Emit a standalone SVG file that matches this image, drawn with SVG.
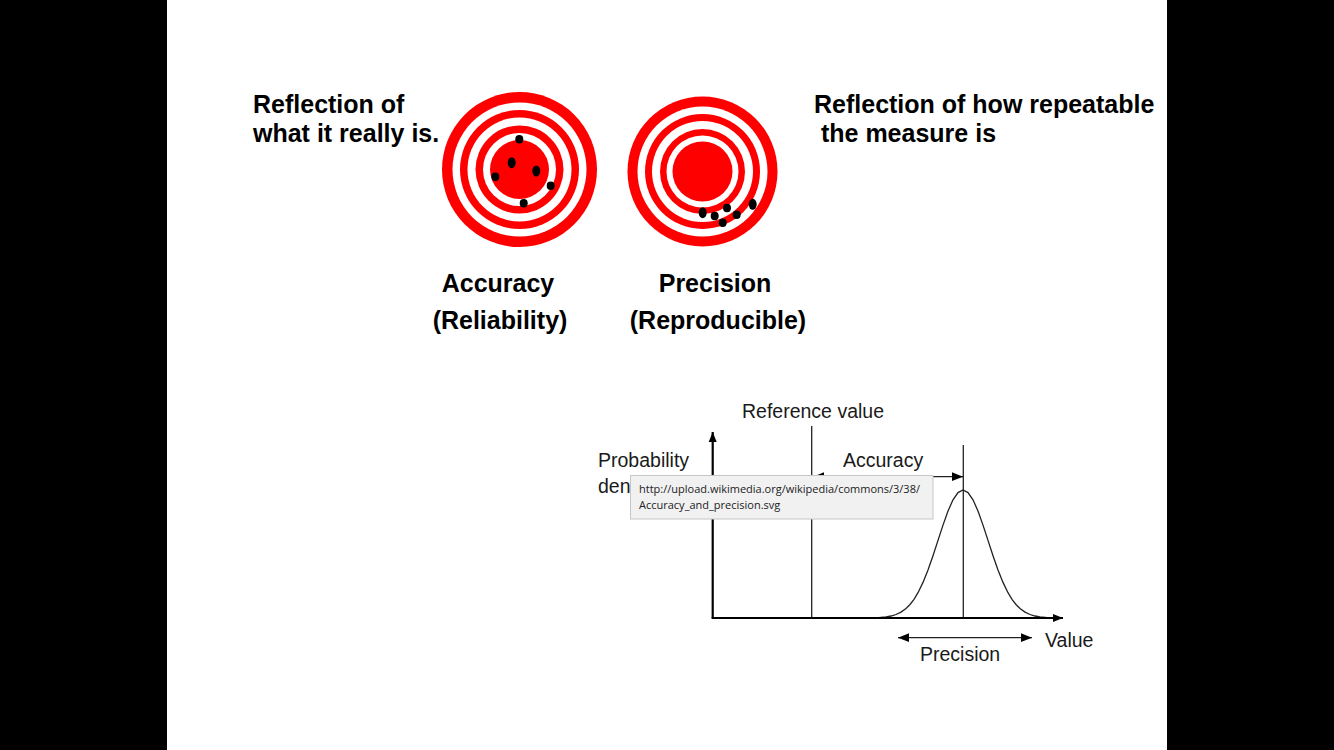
<svg xmlns="http://www.w3.org/2000/svg" width="1334" height="750" viewBox="0 0 1334 750">
<style>
.bold{font-family:"Liberation Sans",Arial,sans-serif;font-weight:bold;font-size:25px;fill:#000}
.reg{font-family:"Liberation Sans",Arial,sans-serif;font-size:19.5px;fill:#1a1a1a}
.tip{font-family:"Open Sans","Noto Sans",sans-serif;font-size:11px;fill:#222}
.red{fill:#ff0000}
.wht{fill:#ffffff}
.dot{fill:#000}
.ln{stroke:#222;stroke-width:1.3;fill:none}
.ax{stroke:#000;stroke-width:2.2;fill:none}
</style>
<defs>
<marker id="ah" viewBox="0 0 10 10" refX="10" refY="5" markerWidth="10" markerHeight="10" markerUnits="userSpaceOnUse" orient="auto-start-reverse">
<path d="M0,1 L10,5 L0,9 z" fill="#000"/>
</marker>
<marker id="ah2" viewBox="0 0 10 10" refX="10" refY="5" markerWidth="11" markerHeight="11" markerUnits="userSpaceOnUse" orient="auto-start-reverse">
<path d="M0,1 L10,5 L0,9 z" fill="#000"/>
</marker>
</defs>
<rect x="0" y="0" width="1334" height="750" fill="#000"/>
<rect x="167" y="0" width="1000" height="750" fill="#fff"/>

<g id="text-left">
<text class="bold" x="253" y="113">Reflection of</text>
<text class="bold" x="253" y="142">what it really is.</text>
</g>
<g id="text-right">
<text class="bold" x="814" y="113">Reflection of how repeatable</text>
<text class="bold" x="814" y="142" xml:space="preserve"> the measure is</text>
</g>

<g id="target-accuracy">
<circle class="red" cx="519.5" cy="169.5" r="77.5"/>
<circle class="wht" cx="519.5" cy="169.5" r="67"/>
<circle class="red" cx="519.5" cy="169.5" r="59.5"/>
<circle class="wht" cx="519.5" cy="169.5" r="52"/>
<circle class="red" cx="519.5" cy="169.5" r="44"/>
<circle class="wht" cx="519.5" cy="169.5" r="36.5"/>
<circle class="red" cx="519.5" cy="169.5" r="29.5"/>
<ellipse class="dot" cx="519.3" cy="139.3" rx="4" ry="4.2"/>
<ellipse class="dot" cx="511.7" cy="162.7" rx="4" ry="5.5"/>
<ellipse class="dot" cx="536.3" cy="171" rx="4" ry="5.5"/>
<ellipse class="dot" cx="495.3" cy="176.7" rx="4" ry="4.2"/>
<ellipse class="dot" cx="550.7" cy="185.7" rx="4" ry="4.2"/>
<ellipse class="dot" cx="523.7" cy="203.3" rx="4" ry="4.2"/>
</g>
<g id="label-accuracy">
<text class="bold" x="498" y="292" text-anchor="middle">Accuracy</text>
<text class="bold" x="500" y="329" text-anchor="middle">(Reliability)</text>
</g>

<g id="target-precision">
<circle class="red" cx="702.5" cy="171.5" r="75"/>
<circle class="wht" cx="702.5" cy="171.5" r="65"/>
<circle class="red" cx="702.5" cy="171.5" r="57.5"/>
<circle class="wht" cx="702.5" cy="171.5" r="50.5"/>
<circle class="red" cx="702.5" cy="171.5" r="42.5"/>
<circle class="wht" cx="702.5" cy="171.5" r="36"/>
<circle class="red" cx="702.5" cy="171.5" r="30"/>
<ellipse class="dot" cx="702.7" cy="212.7" rx="4" ry="5.5"/>
<ellipse class="dot" cx="714.7" cy="216" rx="4" ry="4.2"/>
<ellipse class="dot" cx="727" cy="208" rx="4" ry="4.2"/>
<ellipse class="dot" cx="722.7" cy="222.7" rx="4" ry="4.2"/>
<ellipse class="dot" cx="736.7" cy="214.7" rx="4" ry="4.2"/>
<ellipse class="dot" cx="752.7" cy="204.3" rx="4" ry="5.5"/>
</g>
<g id="label-precision">
<text class="bold" x="715" y="292" text-anchor="middle">Precision</text>
<text class="bold" x="718" y="329" text-anchor="middle">(Reproducible)</text>
</g>

<g id="graph">
<text class="reg" x="742" y="418">Reference value</text>
<text class="reg" x="598" y="467">Probability</text>
<text class="reg" x="598" y="493">den</text>
<text class="reg" x="843" y="467">Accuracy</text>
<text class="reg" x="1045" y="647">Value</text>
<text class="reg" x="920" y="661">Precision</text>
<path id="curve" class="ln" d="M876,618 L886,616.9 L891,616 L896,614.5 L901,612.1 L906,608.5 L910,604.5 L914,599.3 L918,592.7 L923,582.4 L928,570 L933,555.7 L938,540.4 L943,525.1 L948,511.1 L953,499.8 L958,492.6 L963,490 L968,492.6 L973,499.8 L978,511.1 L983,525.1 L988,540.4 L993,555.7 L998,570 L1003,582.4 L1008,592.7 L1012,599.3 L1016,604.5 L1020,608.5 L1025,612.1 L1030,614.5 L1035,616 L1040,616.9 L1050,618"/>
</g>
<g id="connectors">
<line class="ln" x1="811.7" y1="426" x2="811.7" y2="618"/>
<line class="ln" x1="963.3" y1="445" x2="963.3" y2="618"/>
<line class="ax" x1="712.7" y1="618" x2="712.7" y2="432" marker-end="url(#ah)"/>
<line class="ax" x1="711.6" y1="618" x2="1063" y2="618" marker-end="url(#ah)"/>
<line class="ln" x1="813" y1="476.7" x2="963" y2="476.7" marker-start="url(#ah2)" marker-end="url(#ah2)"/>
<line class="ln" x1="898" y1="637.7" x2="1032" y2="637.7" marker-start="url(#ah2)" marker-end="url(#ah2)"/>
</g>

<g id="tooltip">
<rect x="630.5" y="475.5" width="302.5" height="43.5" fill="#f1f1f1" stroke="#c6c6c6" stroke-width="1"/>
<text class="tip" x="639" y="493">http://upload.wikimedia.org/wikipedia/commons/3/38/</text>
<text class="tip" x="639" y="509">Accuracy_and_precision.svg</text>
</g>
</svg>
